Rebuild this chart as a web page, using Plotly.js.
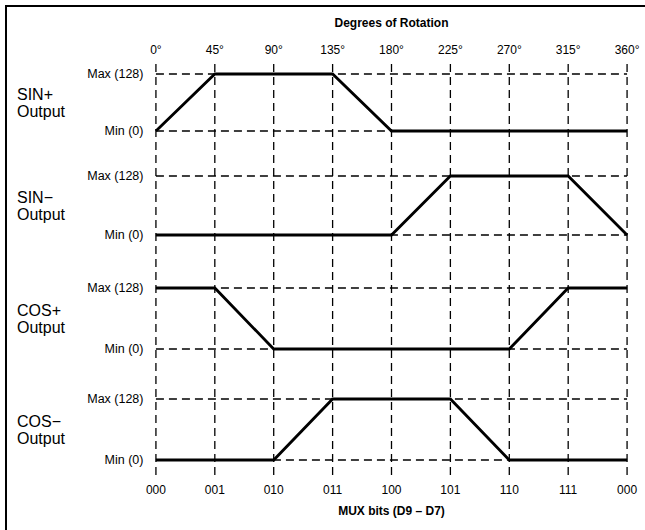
<!DOCTYPE html>
<html>
<head>
<meta charset="utf-8">
<script src="https://cdn.plot.ly/plotly-3.0.1.min.js"></script>
<style>html,body{margin:0;padding:0;background:#fff;}#chart{width:645px;height:530px;}</style>
</head>
<body>
<div id="chart"></div>
<script>
// ---- data ----
const degrees = [0, 45, 90, 135, 180, 225, 270, 315, 360];
const degreeLabels = ['0°', '45°', '90°', '135°', '180°', '225°', '270°', '315°', '360°'];
const muxLabels = ['000', '001', '010', '011', '100', '101', '110', '111', '000'];
const panelNames = ['SIN+', 'SIN−', 'COS+', 'COS−'];
const sinPlus  = [0, 128, 128, 128, 0, 0, 0, 0, 0];
const sinMinus = [0, 0, 0, 0, 0, 128, 128, 128, 0];
const cosPlus  = [128, 128, 0, 0, 0, 0, 0, 128, 128];
const cosMinus = [0, 0, 0, 128, 128, 128, 0, 0, 0];
const levelVals = [0, 128];
const levelLabels = ['Min (0)', 'Max (128)'];
const series = [sinPlus, sinMinus, cosPlus, cosMinus];

// ---- layout geometry (pixels) ----
const W = 645, H = 530;
const mL = 152, mR = 14, mT = 63, mB = 55;
const plotH = H - mT - mB, plotW = W - mL - mR;
const maxPx = [74, 176, 288, 399];
const minPx = [131, 235, 349, 460];
const pad = 8; // data units of headroom
const yTop = H - mB; // pixel of paper y=0
function frac(py) { return (yTop - py) / plotH; }
function fx(px) { return (px - mL) / plotW; }

const font = 'Liberation Sans, Arial, Helvetica, sans-serif';
const dashStyle = {color: '#000', width: 1.3, dash: '8px,5px'};
const traces = [];
const layout = {
  width: W, height: H,
  margin: {l: mL, r: mR, t: mT, b: mB},
  paper_bgcolor: '#fff', plot_bgcolor: 'rgba(0,0,0,0)',
  showlegend: false,
  font: {family: font, size: 12, color: '#000'},
  xaxis: {
    range: [-3, 363], anchor: 'free', position: 0,
    tickvals: degrees, ticktext: muxLabels,
    showgrid: false, zeroline: false, showline: false,
    ticks: 'outside', ticklen: 4, tickcolor: 'rgba(0,0,0,0)',
    tickfont: {size: 12, family: font},
    title: {text: '<b>MUX bits (D9 – D7)</b>', font: {size: 12, family: font}, standoff: 10}
  },
  xaxis2: {
    range: [-3, 363], overlaying: 'x', side: 'top', anchor: 'free', position: 1,
    tickvals: degrees, ticktext: degreeLabels,
    showgrid: false, zeroline: false, showline: false,
    ticks: 'outside', ticklen: 4, tickcolor: 'rgba(0,0,0,0)',
    tickfont: {size: 12, family: font},
    title: {text: '<b>Degrees of Rotation</b>', font: {size: 12, family: font}, standoff: 12}
  },
  shapes: [],
  annotations: []
};

series.forEach((vals, i) => {
  const n = i === 0 ? '' : String(i + 1);
  const u = (minPx[i] - maxPx[i]) / 128;
  const topPx = maxPx[i] - pad * u, botPx = minPx[i] + pad * u;
  layout['yaxis' + n] = {
    domain: [frac(botPx), frac(topPx)],
    range: [-pad, 128 + pad],
    anchor: 'x',
    tickvals: levelVals, ticktext: levelLabels,
    showgrid: false, zeroline: false, showline: false,
    ticks: 'outside', ticklen: 5, tickcolor: 'rgba(0,0,0,0)',
    tickfont: {size: 12.5, family: font}, fixedrange: true
  };
  // horizontal dashed level lines
  levelVals.forEach(v => {
    layout.shapes.push({type: 'line', xref: 'x', yref: 'y' + n,
      x0: degrees[0], x1: degrees[degrees.length - 1], y0: v, y1: v,
      line: dashStyle, layer: 'below'});
  });
  traces.push({
    type: 'scatter', mode: 'lines', x: degrees, y: vals,
    xaxis: 'x', yaxis: 'y' + n,
    line: {color: '#000', width: 2.8}, hoverinfo: 'skip'
  });
  const mid = (maxPx[i] + minPx[i]) / 2;
  layout.annotations.push({
    xref: 'paper', yref: 'paper', x: fx(15), y: frac(mid - 8),
    xanchor: 'left', yanchor: 'middle', align: 'left', showarrow: false,
    text: panelNames[i], font: {size: 16, family: font}
  });
  layout.annotations.push({
    xref: 'paper', yref: 'paper', x: fx(15), y: frac(mid + 9),
    xanchor: 'left', yanchor: 'middle', align: 'left', showarrow: false,
    text: 'Output', font: {size: 16, family: font}
  });
});

// vertical dashed lines through all panels
degrees.forEach(d => {
  layout.shapes.push({type: 'line', xref: 'x', yref: 'paper', x0: d, x1: d, y0: 0, y1: 1,
    line: dashStyle, layer: 'below'});
});
// frame (top and left edges)
layout.shapes.push({type: 'line', xref: 'paper', yref: 'paper', x0: fx(5), x1: fx(645), y0: frac(6), y1: frac(6), line: {color: '#000', width: 2}});
layout.shapes.push({type: 'line', xref: 'paper', yref: 'paper', x0: fx(6), x1: fx(6), y0: frac(5), y1: frac(530), line: {color: '#000', width: 2}});

traces.push({type: 'scatter', x: [], y: [], xaxis: 'x2', yaxis: 'y', hoverinfo: 'skip'});

Plotly.newPlot('chart', traces, layout, {displayModeBar: false, staticPlot: true});
</script>
</body>
</html>
